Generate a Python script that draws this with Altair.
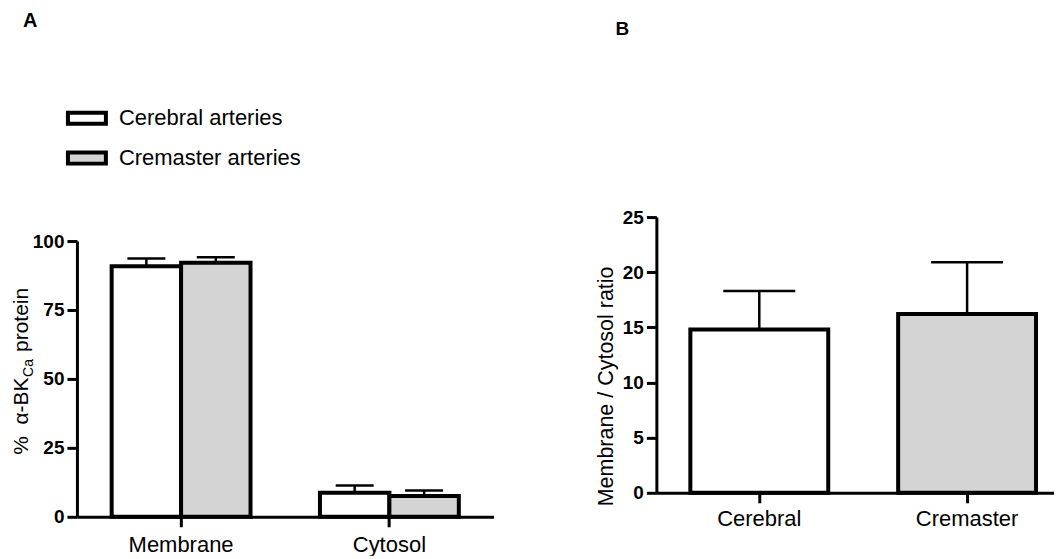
import altair as alt
import pandas as pd

FONT = "Liberation Sans"

# ---- Panel A data ----
fractions = ["Membrane", "Cytosol"]
series = ["Cerebral arteries", "Cremaster arteries"]
cerebral_pct = [90.9, 8.7]
cerebral_sem = [2.8, 2.6]
cremaster_pct = [92.1, 7.5]
cremaster_sem = [2.0, 2.0]
y_ticks_a = [0, 25, 50, 75, 100]

# ---- Panel B data ----
ratio_groups = ["Cerebral", "Cremaster"]
ratio_mean = [14.8, 16.2]
ratio_sem = [3.5, 4.7]
y_ticks_b = [0, 5, 10, 15, 20, 25]

fill_colors = ["#ffffff", "#d4d4d4"]

rows = []
for i, f in enumerate(fractions):
    rows.append(dict(fraction=f, series=series[0], value=cerebral_pct[i], err=cerebral_sem[i]))
    rows.append(dict(fraction=f, series=series[1], value=cremaster_pct[i], err=cremaster_sem[i]))
dfA = pd.DataFrame(rows)
dfA["upper"] = dfA["value"] + dfA["err"]

dfB = pd.DataFrame(dict(group=ratio_groups, value=ratio_mean, err=ratio_sem))
dfB["upper"] = dfB["value"] + dfB["err"]

one = alt.Data(values=[{}])

# ---------- Panel A ----------
x_axis_common = dict(labelAngle=0, labelFontSize=22, labelFont=FONT, labelColor="black",
                     tickSize=10, tickWidth=3, tickColor="black", domainWidth=3,
                     domainColor="black", title=None, grid=False)
y_axis_common = dict(labelFontSize=19, labelFontWeight="bold", labelFont=FONT, labelColor="black",
                     tickSize=10, tickWidth=3, tickColor="black", domainWidth=3,
                     domainColor="black", grid=False, labelPadding=3)

xA = alt.X("fraction:N", sort=fractions,
           scale=alt.Scale(paddingInner=1/3, paddingOuter=1/6),
           axis=alt.Axis(labelPadding=8, **x_axis_common))
xoffA = alt.XOffset("series:N", sort=series, scale=alt.Scale(paddingInner=0, paddingOuter=0))
yA_scale = alt.Scale(domain=[0, 100], range=[300, 24], nice=False)
yA_axis = alt.Axis(values=y_ticks_a, title=None, **y_axis_common)

legA = alt.Legend(orient="none", legendX=-11, legendY=-120, title=None,
                  symbolType="M-1,-0.29H1V0.29H-1Z", symbolSize=1444,
                  symbolStrokeColor="black", symbolStrokeWidth=4,
                  labelFontSize=22, labelFont=FONT, labelColor="black", labelLimit=400,
                  labelOffset=11, rowPadding=5, padding=0)

barsA = alt.Chart(dfA).mark_bar(stroke="black", strokeWidth=4).encode(
    x=xA, xOffset=xoffA,
    y=alt.Y("value:Q", scale=yA_scale, axis=yA_axis),
    fill=alt.Fill("series:N", sort=series,
                  scale=alt.Scale(domain=series, range=fill_colors), legend=legA),
)
errA = alt.Chart(dfA).mark_rule(color="black", strokeWidth=2.5, opacity=1).encode(
    x=xA, xOffset=xoffA,
    y=alt.Y("value:Q", scale=yA_scale, axis=yA_axis), y2="upper:Q",
)
capA = alt.Chart(dfA).mark_tick(color="black", thickness=2.5, size=38, opacity=1).encode(
    x=xA, xOffset=xoffA,
    y=alt.Y("upper:Q", scale=yA_scale, axis=yA_axis),
)

t1 = alt.Chart(one).mark_text(text="%\u00a0\u00a0α-BK", angle=270, align="left", baseline="alphabetic",
                              fontSize=21, font=FONT, color="black").encode(
    x=alt.value(-48.5), y=alt.value(238))
t2 = alt.Chart(one).mark_text(text="Ca", angle=270, align="left", baseline="alphabetic",
                              fontSize=14, font=FONT, color="black").encode(
    x=alt.value(-43.5), y=alt.value(160))
t3 = alt.Chart(one).mark_text(text="protein", angle=270, align="left", baseline="alphabetic",
                              fontSize=21, font=FONT, color="black").encode(
    x=alt.value(-48.5), y=alt.value(135))
labA = alt.Chart(one).mark_text(text="A", align="left", baseline="alphabetic",
                                fontSize=20, fontWeight="bold", font=FONT, color="black").encode(
    x=alt.value(-54), y=alt.value(-190))

panelA = alt.layer(barsA, errA, capA, t1, t2, t3, labA).properties(width=417, height=300)

# ---------- Panel B ----------
xB = alt.X("group:N", sort=ratio_groups,
           scale=alt.Scale(paddingInner=0.3365, paddingOuter=0.125, align=0.654),
           axis=alt.Axis(labelPadding=6, **x_axis_common))
yB_scale = alt.Scale(domain=[0, 25], nice=False)
yB_axis = alt.Axis(values=y_ticks_b, title="Membrane / Cytosol ratio", titleFontSize=21.5,
                   titleFont=FONT, titleFontWeight="normal", titleColor="black",
                   titlePadding=5, titleY=169, **y_axis_common)

barsB = alt.Chart(dfB).mark_bar(stroke="black", strokeWidth=4).encode(
    x=xB,
    y=alt.Y("value:Q", scale=yB_scale, axis=yB_axis),
    fill=alt.Fill("group:N", sort=ratio_groups,
                  scale=alt.Scale(domain=ratio_groups, range=fill_colors), legend=None),
)
errB = alt.Chart(dfB).mark_rule(color="black", strokeWidth=2.5, opacity=1).encode(
    x=xB, y=alt.Y("value:Q", scale=yB_scale, axis=yB_axis), y2="upper:Q",
)
capB = alt.Chart(dfB).mark_tick(color="black", thickness=2.5, size=72, opacity=1).encode(
    x=xB, y=alt.Y("upper:Q", scale=yB_scale, axis=yB_axis),
)
labB = alt.Chart(one).mark_text(text="B", align="left", baseline="alphabetic",
                                fontSize=19, fontWeight="bold", font=FONT, color="black").encode(
    x=alt.value(-41), y=alt.value(-182))

panelB = alt.layer(barsB, errB, capB, labB).properties(width=398, height=276)

chart = alt.hconcat(panelA, panelB, spacing=163, bounds="flush").resolve_scale(
    x="independent", y="independent", fill="independent"
).properties(
    padding={"left": 3, "top": 3, "right": 0, "bottom": 0}
).configure(font=FONT).configure_view(stroke=None)

chart.save("out.html", embed_options={"renderer": "svg", "actions": False})
